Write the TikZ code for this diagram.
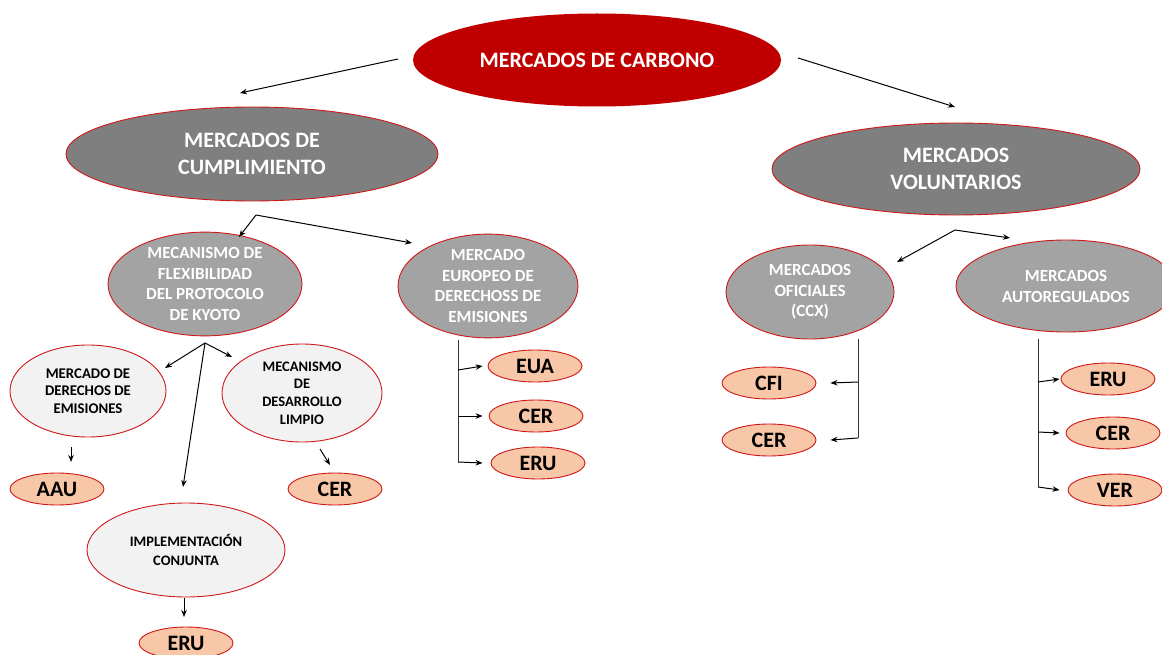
\documentclass[tikz,border=0pt]{standalone}
\usepackage{fontspec}
\setmainfont{Carlito}
\usetikzlibrary{shapes.geometric,arrows.meta}
\definecolor{cred}{HTML}{C00000}
\definecolor{dgray}{HTML}{7F7F7F}
\definecolor{mgray}{HTML}{A3A3A3}
\definecolor{lgray}{HTML}{F2F2F2}
\definecolor{peach}{HTML}{F7C7A7}
\definecolor{bord}{HTML}{D01818}
\begin{document}
\begin{tikzpicture}[x=1pt,y=-1pt,
  ell/.style={ellipse, inner sep=0pt, align=center, draw=bord, line width=0.9pt},
  darkell/.style={ell, fill=dgray, text=white, font=\bfseries\fontsize{22}{26.5}\selectfont},
  midell/.style={ell, fill=mgray, text=white, font=\bfseries\fontsize{17}{20.7}\selectfont},
  lightell/.style={ell, fill=lgray, text=black, font=\bfseries\fontsize{14.8}{17.6}\selectfont},
  tag/.style={ell, fill=peach, text=black, minimum width=94pt, minimum height=32pt, font=\bfseries\fontsize{22}{24}\selectfont},
  arr/.style={-{Stealth[length=7pt,width=5.5pt]}, line width=1pt, black},
  ln/.style={line width=1pt, black!80}]
\clip (0,0) rectangle (1162,655);
\useasboundingbox (0,0) rectangle (1162,655);

% main nodes
\node[ellipse, inner sep=0pt, fill=cred, text=white, minimum width=368pt, minimum height=93pt,
  font=\bfseries\fontsize{22}{26}\selectfont] (top) at (597,60) {MERCADOS DE CARBONO};
\node[darkell, minimum width=372pt, minimum height=94pt] (cumpl) at (252,154) {MERCADOS DE\\CUMPLIMIENTO};
\node[darkell, minimum width=368pt, minimum height=92pt] (vol) at (956,169) {MERCADOS\\VOLUNTARIOS};

\node[midell, minimum width=194pt, minimum height=94pt] (flex) at (205,284) {MECANISMO DE\\FLEXIBILIDAD\\DEL PROTOCOLO\\DE KYOTO};
\node[midell, minimum width=180pt, minimum height=96pt] (euro) at (488,286) {MERCADO\\EUROPEO DE\\DERECHOSS DE\\EMISIONES};
\node[midell, minimum width=168pt, minimum height=94pt, font=\bfseries\fontsize{17}{20.5}\selectfont] (ofi) at (810,292) {MERCADOS\\OFICIALES\\(CCX)};
\node[midell, minimum width=220pt, minimum height=92pt, font=\bfseries\fontsize{17}{21}\selectfont] (auto) at (1066,286) {MERCADOS\\AUTOREGULADOS};

\node[lightell, minimum width=156pt, minimum height=92pt] (mde) at (88,391) {MERCADO DE\\DERECHOS DE\\EMISIONES};
\node[lightell, minimum width=160pt, minimum height=98pt, font=\bfseries\fontsize{14.5}{17.7}\selectfont] (mdl) at (302,393) {MECANISMO\\DE\\DESARROLLO\\LIMPIO};
\node[lightell, minimum width=198pt, minimum height=94pt, font=\bfseries\fontsize{14.5}{19}\selectfont] (impl) at (186,550) {IMPLEMENTACIÓN\\CONJUNTA};

% tags
\node[tag] (aau) at (57,489) {AAU};
\node[tag] (cer1) at (335,489) {CER};
\node[tag] (eru1) at (186,643) {ERU};
\node[tag] (eua) at (535,366) {EUA};
\node[tag] (cer2) at (536,416) {CER};
\node[tag] (eru2) at (538,463) {ERU};
\node[tag] (cfi) at (769,383) {CFI};
\node[tag] (cer3) at (769,440) {CER};
\node[tag] (eru3) at (1108,379) {ERU};
\node[tag] (cer4) at (1113,433) {CER};
\node[tag] (ver) at (1115,490) {VER};

% coordinates
\coordinate (s1) at (398,59);  \coordinate (e1) at (240,93);
\coordinate (s2) at (798,58);  \coordinate (e2) at (955,107);
\coordinate (c1) at (256,215); \coordinate (c1a) at (239,237); \coordinate (c1b) at (412,243);
\coordinate (f1) at (205,343); \coordinate (f1a) at (165,368); \coordinate (f1b) at (232,357); \coordinate (f1c) at (183,487);
\coordinate (m1) at (71,447);  \coordinate (m1e) at (71,462);
\coordinate (d1) at (320,449); \coordinate (d1e) at (330,465);
\coordinate (i1) at (184,598); \coordinate (i1e) at (184,617);
\coordinate (eu0) at (458,340); \coordinate (eu1) at (458,370); \coordinate (eu2) at (458,416); \coordinate (eu3) at (458,462);
\coordinate (v1) at (955,230); \coordinate (v1a) at (897,262); \coordinate (v1b) at (1010,238);
\coordinate (o0) at (858,339); \coordinate (o1) at (858,382); \coordinate (o2) at (858,438);
\coordinate (a0) at (1038,339); \coordinate (a1) at (1038,382); \coordinate (a2) at (1038,432); \coordinate (a3) at (1038,487);

% connectors
\draw[arr] (s1) -- (e1);
\draw[arr] (s2) -- (e2);
\draw[arr] (c1) -- (c1a);
\draw[arr] (c1) -- (c1b);
\draw[arr] (f1) -- (f1a);
\draw[arr] (f1) -- (f1b);
\draw[arr] (f1) -- (f1c);
\draw[arr] (m1) -- (m1e);
\draw[arr] (d1) -- (d1e);
\draw[arr] (i1) -- (i1e);

\draw[ln] (eu0) -- (eu3);
\draw[arr] (eu1) -- ([xshift=-5pt]eua.west);
\draw[arr] (eu2) -- ([xshift=-6pt]cer2.west);
\draw[arr] (eu3) -- ([xshift=-8pt]eru2.west);

\draw[arr] (v1) -- (v1a);
\draw[arr] (v1) -- (v1b);

\draw[ln] (o0) -- (o2);
\draw[arr] (o1) -- ([xshift=14pt]cfi.east);
\draw[arr] (o2) -- ([xshift=14pt]cer3.east);

\draw[ln] (a0) -- (a3);
\draw[arr] (a1) -- ([xshift=-1pt]eru3.west);
\draw[arr] (a2) -- ([xshift=-6pt]cer4.west);
\draw[arr] (a3) -- ([xshift=-8pt]ver.west);
\end{tikzpicture}
\end{document}
